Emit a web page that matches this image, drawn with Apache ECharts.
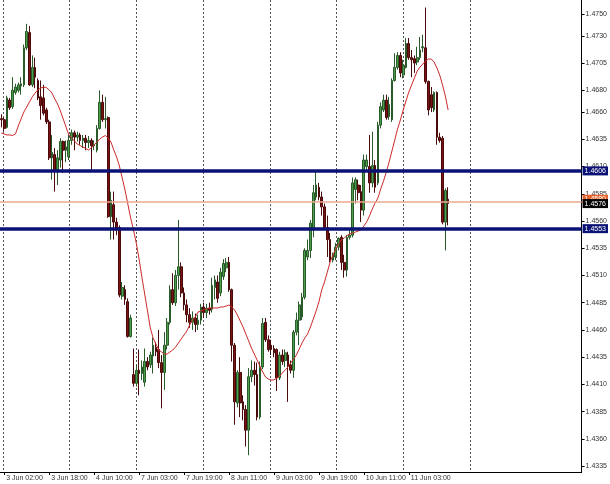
<!DOCTYPE html>
<html><head><meta charset="utf-8">
<script src="https://cdn.jsdelivr.net/npm/echarts@6/dist/echarts.min.js"></script>
<style>html,body{margin:0;padding:0;background:#fff}#c{width:610px;height:484px}</style>
</head><body><div id="c"></div>
<script>
// Hourly quotes, 3 Jun 01:00 .. 11 Jun 17:00
const open = [1.4654,1.4653,1.4646,1.4671,1.4665,1.4678,1.4680,1.4684,1.4685,1.4719,1.4733,1.4685,1.4701,1.4689,1.4674,1.4673,1.4662,1.4651,1.4618,1.4621,
1.4607,1.4616,1.4633,1.4625,1.4619,1.4634,1.4641,1.4637,1.4639,1.4634,1.4636,1.4632,1.4634,1.4629,1.4625,1.4645,1.4669,1.4653,1.4655,1.4564,
1.4575,1.4559,1.4554,1.4491,1.4497,1.4486,1.4454,1.4419,1.4411,1.4423,1.4420,1.4412,1.4431,1.4428,1.4436,1.4444,1.4442,1.4430,1.4421,1.4446,
1.4467,1.4497,1.4485,1.4510,1.4518,1.4494,1.4483,1.4474,1.4467,1.4471,1.4465,1.4469,1.4481,1.4476,1.4480,1.4479,1.4499,1.4504,1.4494,1.4509,
1.4517,1.4522,1.4497,1.4446,1.4393,1.4421,1.4394,1.4387,1.4368,1.4417,1.4423,1.4419,1.4380,1.4426,1.4467,1.4451,1.4446,1.4443,1.4442,1.4416,
1.4437,1.4432,1.4437,1.4428,1.4423,1.4458,1.4469,1.4472,1.4490,1.4527,1.4533,1.4552,1.4582,1.4591,1.4582,1.4573,1.4554,1.4543,1.4524,1.4527,
1.4536,1.4545,1.4522,1.4515,1.4545,1.4547,1.4589,1.4593,1.4587,1.4570,1.4610,1.4610,1.4595,1.4611,1.4595,1.4648,1.4662,1.4671,1.4656,1.4653,
1.4689,1.4701,1.4712,1.4694,1.4701,1.4723,1.4710,1.4709,1.4706,1.4710,1.4719,1.4719,1.4688,1.4676,1.4662,1.4678,1.4637,1.4636,1.4559,1.4580];
const close = [1.4653,1.4645,1.4673,1.4664,1.4680,1.4683,1.4685,1.4686,1.4719,1.4734,1.4685,1.4701,1.4692,1.4673,1.4666,1.4659,1.4651,1.4618,1.4623,1.4607,
1.4618,1.4633,1.4625,1.4628,1.4634,1.4641,1.4637,1.4639,1.4634,1.4636,1.4632,1.4634,1.4629,1.4630,1.4645,1.4669,1.4653,1.4654,1.4564,1.4579,
1.4559,1.4552,1.4492,1.4499,1.4488,1.4454,1.4471,1.4411,1.4423,1.4420,1.4426,1.4431,1.4426,1.4437,1.4446,1.4440,1.4430,1.4421,1.4446,1.4467,
1.4497,1.4485,1.4510,1.4518,1.4494,1.4483,1.4474,1.4467,1.4471,1.4465,1.4469,1.4481,1.4476,1.4480,1.4478,1.4501,1.4506,1.4489,1.4513,1.4521,
1.4522,1.4497,1.4446,1.4394,1.4421,1.4393,1.4387,1.4368,1.4417,1.4423,1.4419,1.4380,1.4426,1.4466,1.4451,1.4442,1.4442,1.4439,1.4416,1.4437,
1.4431,1.4439,1.4427,1.4423,1.4458,1.4469,1.4483,1.4490,1.4533,1.4533,1.4558,1.4586,1.4593,1.4582,1.4573,1.4554,1.4543,1.4524,1.4529,1.4536,
1.4544,1.4522,1.4515,1.4545,1.4547,1.4595,1.4598,1.4586,1.4570,1.4616,1.4616,1.4595,1.4611,1.4591,1.4648,1.4665,1.4671,1.4655,1.4667,1.4689,
1.4701,1.4712,1.4696,1.4703,1.4723,1.4710,1.4708,1.4705,1.4710,1.4717,1.4720,1.4688,1.4662,1.4664,1.4678,1.4637,1.4634,1.4559,1.4588,1.4576];
const low = [1.4646,1.4642,1.4645,1.4662,1.4663,1.4676,1.4678,1.4676,1.4683,1.4717,1.4684,1.4683,1.4682,1.4671,1.4653,1.4657,1.4649,1.4616,1.4598,1.4587,
1.4593,1.4609,1.4604,1.4614,1.4616,1.4630,1.4625,1.4633,1.4630,1.4627,1.4625,1.4627,1.4607,1.4625,1.4623,1.4644,1.4651,1.4645,1.4563,1.4543,
1.4543,1.4547,1.4490,1.4488,1.4483,1.4453,1.4453,1.4408,1.4408,1.4400,1.4414,1.4408,1.4423,1.4425,1.4420,1.4436,1.4425,1.4388,1.4405,1.4442,
1.4465,1.4483,1.4482,1.4497,1.4490,1.4478,1.4467,1.4462,1.4460,1.4458,1.4460,1.4465,1.4471,1.4471,1.4474,1.4476,1.4488,1.4485,1.4491,1.4506,
1.4513,1.4495,1.4431,1.4373,1.4389,1.4380,1.4377,1.4353,1.4345,1.4412,1.4409,1.4377,1.4378,1.4424,1.4449,1.4440,1.4437,1.4435,1.4404,1.4414,
1.4428,1.4426,1.4394,1.4420,1.4416,1.4455,1.4446,1.4469,1.4488,1.4524,1.4526,1.4545,1.4579,1.4579,1.4565,1.4552,1.4527,1.4522,1.4522,1.4524,
1.4533,1.4515,1.4508,1.4509,1.4543,1.4545,1.4576,1.4579,1.4559,1.4565,1.4607,1.4586,1.4591,1.4586,1.4593,1.4645,1.4660,1.4653,1.4653,1.4651,
1.4688,1.4699,1.4692,1.4691,1.4700,1.4708,1.4692,1.4696,1.4703,1.4708,1.4715,1.4686,1.4657,1.4660,1.4660,1.4630,1.4632,1.4557,1.4533,1.4556];
const high = [1.4658,1.4655,1.4675,1.4673,1.4692,1.4686,1.4687,1.4692,1.4722,1.4741,1.4739,1.4712,1.4710,1.4691,1.4689,1.4685,1.4664,1.4653,1.4639,1.4627,
1.4625,1.4636,1.4634,1.4634,1.4639,1.4644,1.4643,1.4642,1.4641,1.4639,1.4639,1.4638,1.4636,1.4634,1.4648,1.4680,1.4676,1.4674,1.4656,1.4587,
1.4587,1.4563,1.4556,1.4504,1.4501,1.4489,1.4474,1.4443,1.4428,1.4442,1.4432,1.4443,1.4435,1.4440,1.4453,1.4449,1.4460,1.4437,1.4458,1.4471,
1.4501,1.4512,1.4515,1.4561,1.4522,1.4499,1.4488,1.4480,1.4477,1.4475,1.4474,1.4484,1.4485,1.4484,1.4485,1.4508,1.4510,1.4510,1.4517,1.4525,
1.4526,1.4527,1.4498,1.4448,1.4423,1.4435,1.4400,1.4391,1.4425,1.4432,1.4431,1.4430,1.4431,1.4471,1.4471,1.4455,1.4451,1.4446,1.4443,1.4440,
1.4442,1.4442,1.4440,1.4432,1.4460,1.4476,1.4486,1.4494,1.4535,1.4543,1.4561,1.4593,1.4605,1.4595,1.4587,1.4576,1.4565,1.4549,1.4531,1.4540,
1.4545,1.4547,1.4529,1.4547,1.4552,1.4600,1.4600,1.4598,1.4593,1.4621,1.4621,1.4639,1.4642,1.4616,1.4651,1.4669,1.4676,1.4676,1.4674,1.4691,
1.4714,1.4715,1.4715,1.4708,1.4728,1.4728,1.4717,1.4712,1.4720,1.4729,1.4731,1.4756,1.4689,1.4683,1.4679,1.4679,1.4641,1.4638,1.4590,1.4591];
const ma = [1.46408,1.46399,1.46390,1.46390,1.46385,1.46399,1.46472,1.46537,1.46601,1.46647,1.46693,1.46739,1.46775,1.46803,1.46821,1.46830,1.46826,1.46803,1.46775,1.46720,
1.46674,1.46610,1.46537,1.46463,1.46390,1.46362,1.46335,1.46307,1.46293,1.46280,1.46266,1.46252,1.46270,1.46298,1.46325,1.46353,1.46371,1.46385,1.46362,1.46325,
1.46252,1.46188,1.46105,1.45995,1.45885,1.45756,1.45628,1.45518,1.45398,1.45251,1.45086,1.44930,1.44774,1.44618,1.44526,1.44471,1.44416,1.44398,1.44379,1.44379,
1.44398,1.44416,1.44444,1.44480,1.44517,1.44554,1.44590,1.44646,1.44691,1.44719,1.44765,1.44774,1.44783,1.44792,1.44802,1.44802,1.44802,1.44802,1.44811,1.44811,
1.44820,1.44829,1.44811,1.44783,1.44737,1.44682,1.44627,1.44563,1.44499,1.44434,1.44379,1.44324,1.44269,1.44214,1.44168,1.44150,1.44141,1.44141,1.44159,1.44177,
1.44205,1.44232,1.44260,1.44297,1.44333,1.44370,1.44425,1.44480,1.44526,1.44563,1.44627,1.44700,1.44774,1.44857,1.44967,1.45040,1.45132,1.45224,1.45288,1.45343,
1.45389,1.45426,1.45444,1.45467,1.45481,1.45490,1.45499,1.45508,1.45518,1.45554,1.45591,1.45646,1.45710,1.45766,1.45811,1.45894,1.45967,1.46050,1.46142,1.46243,
1.46344,1.46445,1.46527,1.46619,1.46702,1.46784,1.46849,1.46913,1.46977,1.47014,1.47041,1.47069,1.47087,1.47087,1.47060,1.47005,1.46940,1.46849,1.46748,1.46619];

// trading sessions: [day, firstHour, lastHour]
const sessions = [[3,1,23],[4,0,22],[7,0,23],[8,0,23],[9,0,23],[10,0,23],[11,0,23],[14,0,23],[15,0,23]];
const slotCount = 207;
const categories = [];
sessions.forEach(([d, h0, h1]) => { for (let h = h0; h <= h1; h++) categories.push(d + ' Jun ' + String(h).padStart(2,'0') + ':00'); });
categories.length = slotCount;

const xTickLabels = ['3 Jun 02:00','3 Jun 18:00','4 Jun 10:00','7 Jun 03:00','7 Jun 19:00','8 Jun 11:00','9 Jun 03:00','9 Jun 19:00','10 Jun 11:00','11 Jun 03:00'];
const yTickLabels = [1.4750,1.4730,1.4705,1.4680,1.4660,1.4635,1.4610,1.4585,1.4560,1.4535,1.4510,1.4485,1.4460,1.4435,1.4410,1.4385,1.4360,1.4335];
const levels = { upper: 1.4606, lower: 1.4553, bidLine: 1.4578, bid: 1.4576, ask: 1.4580 };

const candles = open.map((o, i) => [o, close[i], low[i], high[i]]);
const isTick = (idx, val) => xTickLabels.indexOf(val) >= 0;
const FONT = 'Liberation Sans';
const navy = '#0b1275';
const hidden = { color: 'rgba(0,0,0,0)', width: 1, type: 'solid' };
const boxLabel = (txt, bg, fg) => ({ show: true, position: 'end', distance: 1, formatter: txt, backgroundColor: bg, color: fg, fontFamily: FONT, fontSize: 7, padding: [1, 2, 1, 2] });

const chart = echarts.init(document.getElementById('c'), null, { renderer: 'canvas' });
chart.setOption({
  animation: false,
  backgroundColor: '#ffffff',
  grid: [
    { left: 0, right: 26, top: 0, bottom: 12 },
    { left: 3, width: 467, top: 0, bottom: 12 }
  ],
  xAxis: [
    {
      type: 'category', data: categories, boundaryGap: true, gridIndex: 0,
      axisLine: { show: true, lineStyle: { color: '#000', width: 1 } },
      axisTick: { show: true, alignWithLabel: true, interval: isTick, length: 3, lineStyle: { color: '#000' } },
      axisLabel: { interval: isTick, align: 'left', margin: 3, padding: [0,0,0,2], fontFamily: FONT, fontSize: 7, color: '#333' },
      splitLine: { show: false }
    },
    {
      type: 'value', gridIndex: 1, min: 0, max: 7, interval: 1,
      axisLine: { show: false }, axisTick: { show: false }, axisLabel: { show: false },
      splitLine: { show: true, lineStyle: { color: '#555', type: [2, 2], width: 1 } }
    }
  ],
  yAxis: [
    {
      type: 'value', position: 'right', gridIndex: 0, min: 1.43296, max: 1.47629, scale: true,
      axisLine: { show: true, lineStyle: { color: '#000', width: 1 } },
      axisTick: { show: true, customValues: yTickLabels, length: 3, lineStyle: { color: '#000' } },
      axisLabel: { customValues: yTickLabels, formatter: v => v.toFixed(4), margin: 4, fontFamily: FONT, fontSize: 7, color: '#333' },
      splitLine: { show: false }
    },
    { type: 'value', gridIndex: 1, min: 0, max: 1, show: false, splitLine: { show: false } }
  ],
  series: [
    {
      type: 'candlestick', xAxisIndex: 0, yAxisIndex: 0, data: candles, barWidth: 2.2,
      itemStyle: { color: '#4a9e4a', color0: '#7a1414', borderColor: '#2a5a2a', borderColor0: '#4a0a0a', borderWidth: 1 }
    },
    {
      type: 'line', xAxisIndex: 0, yAxisIndex: 0, data: ma, symbol: 'none', smooth: false,
      lineStyle: { color: '#cc2a2a', width: 1 }, z: 3,
      markLine: {
        silent: true, symbol: ['none', 'none'], animation: false, precision: 5,
        data: [
          { yAxis: levels.bidLine, lineStyle: { color: '#eda891', width: 1.5, type: 'solid' }, label: { show: false } },
          { yAxis: levels.ask, lineStyle: hidden, label: boxLabel(levels.ask.toFixed(4), '#e8642c', '#ffffff') },
          { yAxis: levels.bid, lineStyle: hidden, label: boxLabel(levels.bid.toFixed(4), '#000', '#fff') },
          { yAxis: levels.upper, lineStyle: { color: navy, width: 3.5, type: 'solid' }, label: boxLabel(levels.upper.toFixed(4), navy, '#fff') },
          { yAxis: levels.lower, lineStyle: { color: navy, width: 3.5, type: 'solid' }, label: boxLabel(levels.lower.toFixed(4), navy, '#fff') }
        ]
      }
    }
  ]
});
</script></body></html>
